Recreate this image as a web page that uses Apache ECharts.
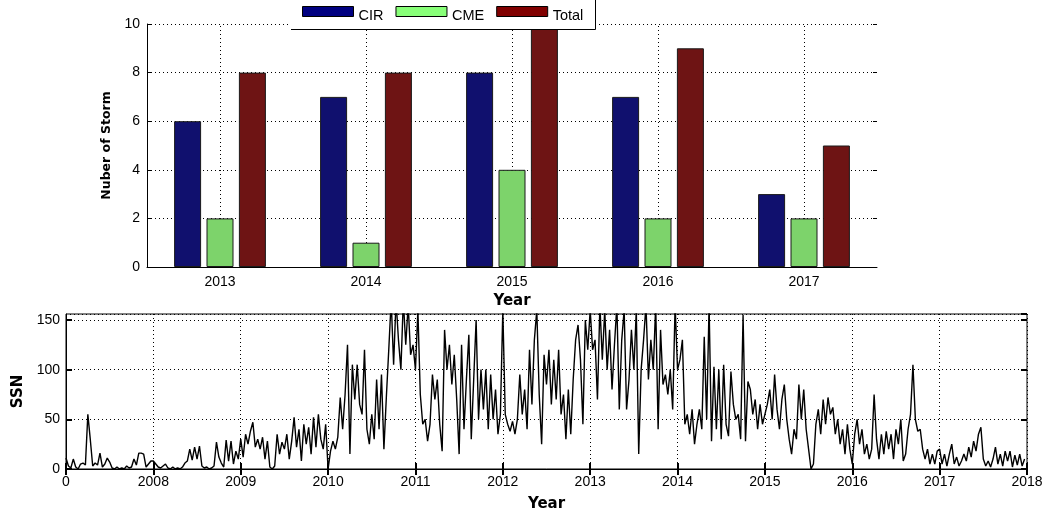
<!DOCTYPE html>
<html><head><meta charset="utf-8">
<script src="https://cdn.jsdelivr.net/npm/echarts@6/dist/echarts.min.js"></script>
<style>html,body{margin:0;padding:0;background:#fff}#c{width:1047px;height:514px}</style>
</head><body><div id="c"></div>
<script>
// ---- top panel data ----
const categories = ['2013', '2014', '2015', '2016', '2017'];
const cir = [6, 7, 8, 7, 3];
const cme = [2, 1, 4, 2, 2];
const total = [8, 8, 10, 9, 5];

// ---- bottom panel data (SSN, ~10-day samples) ----
const ssnYears = [2007, 2008, 2009, 2010, 2011, 2012, 2013, 2014, 2015, 2016, 2017];
const ssn2007 = [11,3,1,10,2,0, 5,6,4,55,30,3, 6,4,16,2,5,11, 7,1,0,2,0,1, 0,3,1,2,10,4, 16,16,15,2,5,8];
const ssn2008 = [8,5,2,1,3,5, 1,0,2,0,1,0, 2,6,8,20,9,22, 10,23,3,1,2,0, 1,3,27,12,6,2, 29,8,28,5,18,10];
const ssn2009 = [30,12,35,25,38,47, 22,30,20,32,10,28, 2,0,3,35,15,27, 20,35,10,28,52,22, 40,8,45,25,42,15, 52,22,55,30,20,45];
const ssn2010 = [0,18,28,20,32,72, 40,75,125,15,105,70, 105,65,55,120,40,25, 55,30,90,40,95,20, 72,120,170,105,170,130, 100,170,125,165,115,125];
const ssn2011 = [100,160,75,45,50,28, 45,95,70,90,45,18, 140,100,125,85,115,70, 15,125,40,90,135,30, 90,150,50,100,60,100, 40,95,50,80,35,55];
const ssn2012 = [160,55,45,38,48,35, 50,95,55,80,40,120, 65,130,160,75,25,115, 85,120,65,110,70,120, 55,75,30,80,35,90, 130,145,110,45,150,120];
const ssn2013 = [160,120,130,70,165,110, 160,100,140,80,125,165, 60,130,160,60,90,140, 100,160,15,100,130,165, 90,130,100,165,40,140, 85,95,75,100,60,165];
const ssn2014 = [100,110,130,45,55,35, 60,25,45,60,40,133, 50,165,28,103,40,100, 30,105,45,33,98,65, 50,55,30,155,28,88, 80,55,70,40,65,45];
const ssn2015 = [55,65,80,50,95,60, 40,70,85,50,30,15, 40,30,85,50,80,40, 20,0,5,45,60,35, 70,45,72,55,62,35, 50,25,40,15,45,20];
const ssn2016 = [5,35,50,25,40,15, 25,10,20,75,30,10, 35,15,38,20,35,10, 40,25,50,8,15,40, 55,105,50,38,40,20, 10,20,5,15,5,18];
const ssn2017 = [20,5,15,3,15,25, 5,12,3,8,15,8, 22,12,28,18,35,42, 10,3,8,2,10,22, 5,15,3,18,8,18, 2,14,4,15,3,10];
const ssnXTickLabels = ['0', '2008', '2009', '2010', '2011', '2012', '2013', '2014', '2015', '2016', '2017', '2018'];

const ssnByYear = [ssn2007, ssn2008, ssn2009, ssn2010, ssn2011, ssn2012, ssn2013, ssn2014, ssn2015, ssn2016, ssn2017];
const ssnData = [];
ssnYears.forEach((y, k) => {
  const arr = ssnByYear[k];
  arr.forEach((v, i) => ssnData.push([y + i / arr.length, v]));
});

const FONT = 'Liberation Sans, Arial, sans-serif';
const BOLD = 'DejaVu Sans, sans-serif';
const dotted = { color: '#000', width: 1, type: [1, 3] };
const nameStyle = (size) => ({ fontFamily: BOLD, fontWeight: 'bold', fontSize: size, color: '#000' });
const labelStyle = { color: '#000', fontFamily: FONT, fontSize: 14 };

const chart = echarts.init(document.getElementById('c'), null, { renderer: 'canvas' });
chart.setOption({
  animation: false,
  backgroundColor: '#fff',
  grid: [
    { left: 147, right: 170, top: 24, height: 243 },
    { left: 66, right: 20, top: 314, height: 155, show: true, borderColor: '#000', borderWidth: 1, backgroundColor: 'transparent' }
  ],
  legend: {
    left: 302, top: 6, padding: 0, itemWidth: 51, itemHeight: 10, itemGap: 12, icon: 'rect', selectedMode: false, z: 200,
    formatter: '{t|{name}}',
    textStyle: {
      fontFamily: FONT, fontSize: 14.5, color: '#000',
      rich: { t: { fontFamily: FONT, fontSize: 14.5, color: '#000', padding: [8, 0, 0, 0] } }
    },
    data: [
      { name: 'CIR', itemStyle: { color: '#000080', borderColor: '#000', borderWidth: 1 } },
      { name: 'CME', itemStyle: { color: '#88ff78', borderColor: '#000', borderWidth: 1 } },
      { name: 'Total', itemStyle: { color: '#800000', borderColor: '#000', borderWidth: 1 } }
    ]
  },
  graphic: [
    { type: 'rect', shape: { x: 291, y: -2, width: 305, height: 31 }, style: { fill: '#fff' }, z: 100 },
    { type: 'line', shape: { x1: 291, y1: 29.5, x2: 595.5, y2: 29.5 }, style: { stroke: '#000', lineWidth: 1 }, z: 101 },
    { type: 'line', shape: { x1: 595.5, y1: 0, x2: 595.5, y2: 29.5 }, style: { stroke: '#000', lineWidth: 1 }, z: 101 }
  ],
  xAxis: [
    {
      gridIndex: 0, type: 'category', data: categories,
      axisLine: { lineStyle: { color: '#000', width: 1 } },
      axisTick: { show: true, inside: true, alignWithLabel: true, length: 4, lineStyle: { color: '#000' } },
      axisLabel: Object.assign({ margin: 8 }, labelStyle),
      splitLine: { show: false },
      name: 'Year', nameLocation: 'middle', nameGap: 27, nameTextStyle: nameStyle(15)
    },
    {
      gridIndex: 1, type: 'value', min: 2007, max: 2018, interval: 1,
      axisLine: { onZero: false, lineStyle: { color: '#000', width: 1 } },
      axisTick: { inside: true, length: 6, lineStyle: { color: '#000', width: 2 } },
      axisLabel: Object.assign({ margin: 6, formatter: v => ssnXTickLabels[Math.round(v - 2007)] }, labelStyle),
      splitLine: { show: true, lineStyle: dotted },
      name: 'Year', nameLocation: 'middle', nameGap: 28, nameTextStyle: nameStyle(15)
    },
    {
      gridIndex: 1, type: 'value', position: 'top', min: 2007, max: 2018, interval: 1,
      axisLine: { show: false }, axisTick: { inside: true, length: 6, lineStyle: { color: '#000', width: 2 } },
      axisLabel: { show: false }, splitLine: { show: false }
    }
  ],
  yAxis: [
    {
      gridIndex: 0, type: 'value', min: 0, max: 10, interval: 2,
      axisLine: { show: true, lineStyle: { color: '#000', width: 1 } },
      axisTick: { show: true, inside: true, length: 4, lineStyle: { color: '#000' } },
      axisLabel: Object.assign({ margin: 7 }, labelStyle),
      splitLine: { show: true, lineStyle: dotted },
      name: 'Nuber of Storm', nameLocation: 'middle', nameGap: 34, nameTextStyle: nameStyle(12.5)
    },
    {
      gridIndex: 0, type: 'value', position: 'right', min: 0, max: 10, interval: 2,
      axisLine: { show: false }, axisTick: { show: true, inside: true, length: 4, lineStyle: { color: '#000' } },
      axisLabel: { show: false }, splitLine: { show: false }
    },
    {
      gridIndex: 1, type: 'value', min: 0, max: 156, interval: 50,
      axisLine: { show: true, lineStyle: { color: '#000', width: 1 } },
      axisTick: { show: true, inside: true, length: 6, lineStyle: { color: '#000', width: 2 } },
      axisLabel: Object.assign({ margin: 6, showMaxLabel: false }, labelStyle),
      splitLine: { show: true, lineStyle: dotted },
      name: 'SSN', nameLocation: 'middle', nameGap: 40, nameTextStyle: nameStyle(15)
    },
    {
      gridIndex: 1, type: 'value', position: 'right', min: 0, max: 156, interval: 50,
      axisLine: { show: false }, axisTick: { show: true, inside: true, length: 6, lineStyle: { color: '#000', width: 2 } },
      axisLabel: { show: false, showMaxLabel: false }, splitLine: { show: false }
    }
  ],
  series: [
    {
      name: 'CIR', type: 'bar', xAxisIndex: 0, yAxisIndex: 0, data: cir, barWidth: 27, barGap: '20%',
      itemStyle: { color: '#10106e', borderColor: '#1a1a1a', borderWidth: 1 }
    },
    {
      name: 'CME', type: 'bar', xAxisIndex: 0, yAxisIndex: 0, data: cme, barWidth: 27, barGap: '20%',
      itemStyle: { color: '#7dd36b', borderColor: '#1a1a1a', borderWidth: 1 },
      markLine: {
        silent: true, symbol: 'none', z: 1, label: { show: false }, lineStyle: dotted,
        data: categories.map(c => ({ xAxis: c }))
      }
    },
    {
      name: 'Total', type: 'bar', xAxisIndex: 0, yAxisIndex: 0, data: total, barWidth: 27, barGap: '20%',
      itemStyle: { color: '#6e1414', borderColor: '#1a1a1a', borderWidth: 1 }
    },
    {
      name: 'SSN', type: 'line', xAxisIndex: 1, yAxisIndex: 2, data: ssnData, showSymbol: false, clip: true,
      lineStyle: { color: '#000', width: 1.4 }, z: 3
    }
  ]
});
</script>
</body></html>
